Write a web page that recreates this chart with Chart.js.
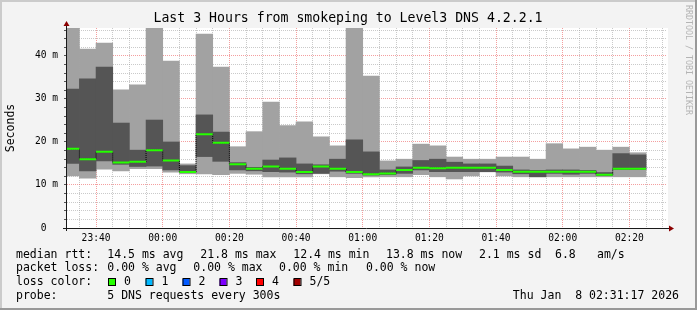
<!DOCTYPE html>
<html>
<head>
<meta charset="utf-8">
<script src="https://cdn.jsdelivr.net/npm/chart.js@4.4.1/dist/chart.umd.min.js"></script>
<style>
  html, body { margin: 0; padding: 0; background: #f3f3f3; }
  canvas { display: block; }
</style>
</head>
<body>
<canvas id="chart" width="697" height="310"></canvas>
<script>
// 5 minute slots (start time of each slot), values in ms
const slots = ['23:30', '23:35', '23:40', '23:45', '23:50', '23:55', '00:00', '00:05', '00:10', '00:15',
    '00:20', '00:25', '00:30', '00:35', '00:40', '00:45', '00:50', '00:55', '01:00', '01:05',
    '01:10', '01:15', '01:20', '01:25', '01:30', '01:35', '01:40', '01:45', '01:50', '01:55',
    '02:00', '02:05', '02:10', '02:15', '02:20'];
const pingMin = [12.1, 11.6, 13.7, 13.3, 13.8, 13.8, 13.0, 12.6, 12.6, 12.4,
    12.7, 12.5, 11.9, 11.9, 11.9, 12.6, 11.9, 11.7, 11.9, 11.9,
    11.9, 12.4, 11.9, 11.4, 12.1, 13.05, 12.1, 11.9, 11.9, 11.9,
    11.9, 11.9, 11.9, 11.9, 11.9];
const pingLow = [15.0, 13.3, 15.6, 14.8, 14.3, 14.4, 13.5, 12.9, 16.6, 15.5,
    13.5, 13.3, 13.1, 13.0, 12.6, 12.7, 13.2, 12.7, 12.3, 12.4,
    12.7, 13.5, 13.1, 13.1, 13.1, 13.1, 13.0, 12.6, 11.9, 12.7,
    12.5, 12.7, 12.2, 13.6, 13.6];
const pingMedian = [18.4, 16.0, 17.7, 15.2, 15.4, 18.1, 15.7, 13.0, 21.8, 19.8,
    14.8, 13.8, 14.3, 13.8, 13.0, 14.3, 13.8, 13.0, 12.5, 12.7,
    13.5, 14.0, 13.9, 14.0, 14.0, 14.0, 13.5, 13.1, 13.1, 13.1,
    13.1, 13.1, 12.4, 13.8, 13.8];
const pingHigh = [32.3, 34.7, 37.4, 24.4, 18.1, 25.1, 20.0, 14.5, 26.3, 22.3,
    15.2, 14.1, 15.8, 16.3, 14.9, 14.7, 16.0, 20.5, 17.7, 13.5,
    14.2, 15.7, 16.0, 15.3, 14.9, 14.9, 14.4, 13.5, 13.4, 13.5,
    13.5, 13.4, 12.9, 17.3, 17.0];
const pingMax = [48.0, 41.6, 43.0, 32.1, 33.3, 52.0, 38.8, 14.9, 45.1, 37.4,
    18.9, 22.4, 29.3, 23.8, 24.7, 21.2, 19.1, 55.0, 35.3, 15.6,
    16.0, 19.5, 19.1, 16.5, 16.0, 16.0, 16.5, 16.5, 16.0, 19.6,
    18.4, 18.8, 18.1, 18.8, 17.5];

const rangeStart = '23:31:17';
const rangeEnd = '02:31:17';
const xTickLabels = ['23:40', '00:00', '00:20', '00:40', '01:00', '01:20', '01:40', '02:00', '02:20'];
const yTickValues = [0, 10, 20, 30, 40];
const yTickLabels = ['0  ', '10 m', '20 m', '30 m', '40 m'];

const titleText = 'Last 3 Hours from smokeping to Level3 DNS 4.2.2.1';
const rttStats = ['14.5 ms avg', '21.8 ms max', '12.4 ms min', '13.8 ms now', '2.1 ms sd', '6.8', 'am/s'];
const lossStats = ['0.00 % avg', '0.00 % max', '0.00 % min', '0.00 % now'];
const lossLabels = ['0', '1', '2', '3', '4', '5/5'];
const probeText = '5 DNS requests every 300s';
const stampText = 'Thu Jan  8 02:31:17 2026';

const lossColors = ['#26ff00', '#00b8ff', '#0059ff', '#7e00ff', '#ff0000', '#a10000'];
const MONO = '"DejaVu Sans Mono", monospace';
const slotMinutes = 5;

function toMin(t) {
    const p = t.split(':').map(Number);
    let h = p[0];
    if (h >= 12) h -= 24;
    return h * 60 + p[1] + (p[2] || 0) / 60;
}

const smokeOuter = slots.map((s, i) => ({ x: toMin(s) + slotMinutes / 2, y: [pingMin[i], pingMax[i]] }));
const smokeInner = slots.map((s, i) => ({ x: toMin(s) + slotMinutes / 2, y: [pingLow[i], pingHigh[i]] }));
const medianSteps = slots.map((s, i) => ({ x: toMin(s) + slotMinutes / 2, y: pingMedian[i] }));
const medianSegs = [];
slots.forEach((s, i) => {
    const x0 = toMin(s);
    medianSegs.push({ x: x0, y: pingMedian[i] }, { x: x0 + slotMinutes, y: pingMedian[i] }, { x: x0 + slotMinutes, y: null });
});

const rrdDecor = {
    id: 'rrdDecor',
    beforeDraw(chart) {
        const { ctx, chartArea: a, width, height } = chart;
        ctx.save();
        ctx.fillStyle = '#f3f3f3';
        ctx.fillRect(0, 0, width, height);
        ctx.fillStyle = '#cbcbcb';
        ctx.fillRect(0, 0, width, 2);
        ctx.fillRect(0, 0, 2, height);
        ctx.fillStyle = '#999999';
        ctx.fillRect(0, height - 2, width, 2);
        ctx.fillRect(width - 2, 0, 2, height);
        ctx.fillStyle = '#ffffff';
        ctx.fillRect(a.left, a.top, a.right - a.left + 1, a.bottom - a.top);
        ctx.restore();
    },
    afterDraw(chart) {
        const { ctx, chartArea: a } = chart;
        ctx.save();
        // axes + arrows
        ctx.strokeStyle = '#1a1a1a';
        ctx.lineWidth = 1;
        ctx.beginPath();
        ctx.moveTo(a.left - 0.5, a.bottom + 3);
        ctx.lineTo(a.left - 0.5, a.top - 3);
        ctx.moveTo(a.left - 4, a.bottom + 0.5);
        ctx.lineTo(a.right + 3, a.bottom + 0.5);
        ctx.stroke();
        ctx.fillStyle = '#8b0000';
        ctx.beginPath();
        ctx.moveTo(a.left - 3.5, a.top - 2);
        ctx.lineTo(a.left + 2.5, a.top - 2);
        ctx.lineTo(a.left - 0.5, a.top - 7);
        ctx.closePath();
        ctx.fill();
        ctx.beginPath();
        ctx.moveTo(a.right + 2, a.bottom - 2.5);
        ctx.lineTo(a.right + 2, a.bottom + 3.5);
        ctx.lineTo(a.right + 7, a.bottom + 0.5);
        ctx.closePath();
        ctx.fill();

        // title
        ctx.fillStyle = '#000';
        ctx.textBaseline = 'middle';
        ctx.textAlign = 'center';
        ctx.font = '13.2px ' + MONO;
        ctx.fillText(titleText, 348, 19);

        // y title
        ctx.font = '11.5px ' + MONO;
        ctx.save();
        ctx.translate(11, (a.top + a.bottom) / 2);
        ctx.rotate(-Math.PI / 2);
        ctx.fillText('Seconds', 0, 0);
        ctx.restore();

        // watermark
        ctx.save();
        ctx.fillStyle = '#b4b4b4';
        ctx.font = '8.3px ' + MONO;
        ctx.translate(688, 60);
        ctx.rotate(Math.PI / 2);
        ctx.fillText('RRDTOOL / TOBI OETIKER', 0, 0);
        ctx.restore();

        // legend
        ctx.textAlign = 'left';
        ctx.font = '11.5px ' + MONO;
        ctx.fillText('median rtt:', 16, 255);
        [107.3, 200.3, 293.3, 386, 479, 555, 597].forEach((x, i) => ctx.fillText(rttStats[i], x, 255));
        ctx.fillText('packet loss:', 16, 268.5);
        [107.3, 193.3, 279, 366].forEach((x, i) => ctx.fillText(lossStats[i], x, 268.5));
        ctx.fillText('loss color:', 16, 282.5);
        [108, 145.5, 182.5, 219.5, 256, 293.5].forEach((x, i) => {
            ctx.fillStyle = lossColors[i];
            ctx.fillRect(x, 279, 7, 7);
            ctx.strokeStyle = '#000';
            ctx.strokeRect(x + 0.5, 278.5, 7, 7);
            ctx.fillStyle = '#000';
            ctx.fillText(lossLabels[i], x + 16, 282.5);
        });
        ctx.fillText('probe:', 16, 296.5);
        ctx.fillText(probeText, 107.3, 296.5);
        ctx.textAlign = 'right';
        ctx.fillText(stampText, 679, 296.5);
        ctx.restore();
    }
};

new Chart(document.getElementById('chart'), {
    type: 'bar',
    data: {
        datasets: [
            {
                type: 'line',
                label: 'median',
                data: medianSegs,
                borderColor: lossColors[0],
                borderWidth: 2,
                pointRadius: 0,
                spanGaps: false,
                clip: 0,
                order: 1
            },
            {
                type: 'line',
                label: 'median step',
                data: medianSteps,
                stepped: 'middle',
                borderColor: '#000000',
                borderWidth: 1,
                borderDash: [1, 1],
                pointRadius: 0,
                clip: 0,
                order: 2
            },
            {
                label: 'smoke inner',
                data: smokeInner,
                backgroundColor: '#555555',
                borderWidth: 0,
                grouped: false,
                barPercentage: 1,
                categoryPercentage: 1,
                clip: 0,
                order: 3
            },
            {
                label: 'smoke outer',
                data: smokeOuter,
                backgroundColor: '#a2a2a2',
                borderWidth: 0,
                grouped: false,
                barPercentage: 1,
                categoryPercentage: 1,
                clip: 0,
                order: 4
            }
        ]
    },
    options: {
        responsive: false,
        animation: false,
        devicePixelRatio: 1,
        layout: { padding: { left: 0, top: 28, right: 30, bottom: 62 } },
        plugins: {
            legend: { display: false },
            title: { display: false },
            tooltip: { enabled: false }
        },
        scales: {
            x: {
                type: 'linear',
                min: toMin(rangeStart),
                max: toMin(rangeEnd),
                offset: false,
                afterBuildTicks: scale => {
                    const t = [];
                    for (let v = Math.ceil(scale.min / slotMinutes) * slotMinutes; v <= scale.max; v += slotMinutes) t.push({ value: v });
                    scale.ticks = t;
                },
                afterFit: scale => { scale.height = 20; },
                ticks: {
                    autoSkip: false,
                    maxRotation: 0,
                    padding: 4.5,
                    color: '#000',
                    font: { family: MONO, size: 9.6 },
                    callback: value => xTickLabels.find(l => Math.abs(toMin(l) - value) < 0.01) || ''
                },
                grid: {
                    offset: false,
                    drawTicks: false,
                    color: c => (c.tick && xTickLabels.some(l => Math.abs(toMin(l) - c.tick.value) < 0.01)) ? 'rgba(235,80,80,0.55)' : 'rgba(150,150,150,0.5)'
                },
                border: { display: false, dash: [1, 1] }
            },
            y: {
                min: 0,
                max: 46.5,
                afterBuildTicks: scale => {
                    const t = [];
                    for (let v = 0; v <= scale.max; v += 2) t.push({ value: v });
                    scale.ticks = t;
                },
                afterFit: scale => { scale.width = 67; },
                ticks: {
                    autoSkip: false,
                    padding: 6,
                    color: '#000',
                    font: { family: MONO, size: 9.6 },
                    callback: value => {
                        const i = yTickValues.indexOf(value);
                        return i >= 0 ? yTickLabels[i] : '';
                    }
                },
                grid: {
                    tickLength: 3,
                    tickColor: '#555',
                    color: c => (c.tick && yTickValues.includes(c.tick.value)) ? 'rgba(235,80,80,0.55)' : 'rgba(150,150,150,0.5)'
                },
                border: { display: false, dash: [1, 1] }
            }
        }
    },
    plugins: [rrdDecor]
});
</script>
</body>
</html>
